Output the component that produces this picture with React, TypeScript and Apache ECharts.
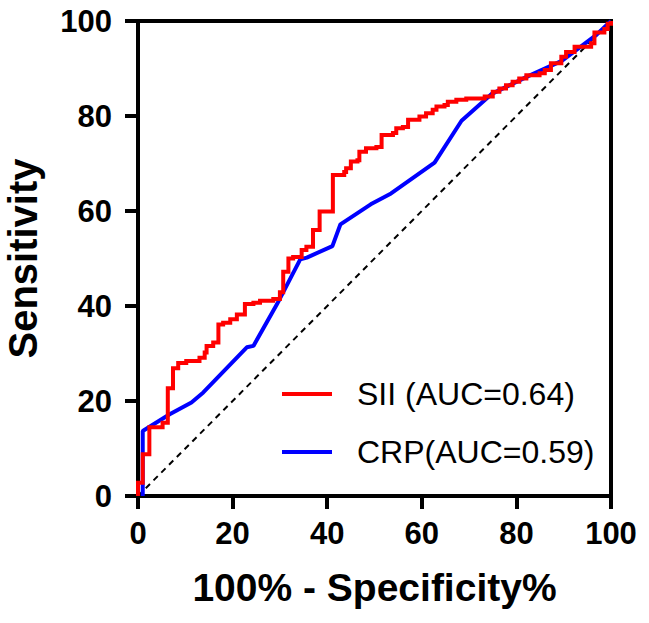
import React, { useEffect, useRef } from "react";
import * as echarts from "echarts";

const SII_NAME = "SII (AUC=0.64)";
const CRP_NAME = "CRP(AUC=0.59)";

const SII_X = [0, 0, 1.0, 1.0, 2.4, 2.4, 5.2, 5.2, 6.3, 6.3, 7.4, 7.4, 8.5, 8.5, 10.2, 10.2, 13.0, 13.0, 14.1, 14.1, 14.5, 14.5, 15.9, 15.9, 17.0, 17.0, 18.0, 18.0, 19.5, 19.5, 20.9, 20.9, 22.6, 22.6, 24.4, 24.4, 25.8, 25.8, 28.6, 28.6, 30.0, 30.0, 30.7, 30.7, 31.8, 31.8, 32.8, 32.8, 34.6, 34.6, 35.6, 35.6, 37.0, 37.0, 38.4, 38.4, 41.2, 41.2, 43.6, 43.6, 44.0, 44.0, 45.0, 45.0, 46.4, 46.4, 46.8, 46.8, 48.2, 48.2, 50.4, 50.4, 51.5, 51.5, 53.9, 53.9, 54.6, 54.6, 56.0, 56.0, 57.1, 57.1, 59.5, 59.5, 60.9, 60.9, 62.3, 62.3, 63.1, 63.1, 64.8, 64.8, 65.5, 65.5, 67.3, 67.3, 69.4, 69.4, 73.3, 73.3, 75.0, 75.0, 76.4, 76.4, 77.8, 77.8, 79.2, 79.2, 80.6, 80.6, 82.1, 82.1, 84.9, 84.9, 86.0, 86.0, 87.3, 87.3, 89.5, 89.5, 90.5, 90.5, 92.3, 92.3, 95.8, 95.8, 96.5, 96.5, 98.6, 98.6, 99.3, 99.3, 100, 100];
const SII_Y = [0, 2.8, 2.8, 8.8, 8.8, 14.5, 14.5, 15.4, 15.4, 22.7, 22.7, 26.9, 26.9, 28.0, 28.0, 28.4, 28.4, 29.1, 29.1, 30.2, 30.2, 31.6, 31.6, 32.3, 32.3, 36.1, 36.1, 36.5, 36.5, 37.2, 37.2, 38.2, 38.2, 40.4, 40.4, 40.7, 40.7, 41.1, 41.1, 41.5, 41.5, 42.9, 42.9, 47.2, 47.2, 50.0, 50.0, 50.3, 50.3, 51.8, 51.8, 52.5, 52.5, 56.0, 56.0, 59.9, 59.9, 67.6, 67.6, 68.2, 68.2, 69.0, 69.0, 70.4, 70.4, 70.7, 70.7, 72.5, 72.5, 73.2, 73.2, 73.5, 73.5, 76.0, 76.0, 76.4, 76.4, 77.4, 77.4, 77.7, 77.7, 79.2, 79.2, 79.9, 79.9, 80.6, 80.6, 81.3, 81.3, 82.0, 82.0, 82.3, 82.3, 83.0, 83.0, 83.4, 83.4, 83.7, 83.7, 84.1, 84.1, 85.1, 85.1, 85.8, 85.8, 86.5, 86.5, 87.2, 87.2, 87.9, 87.9, 88.6, 88.6, 89.0, 89.0, 89.7, 89.7, 91.1, 91.1, 92.5, 92.5, 93.5, 93.5, 94.6, 94.6, 95.3, 95.3, 97.6, 97.6, 98.3, 98.3, 99.4, 99.4, 100];

const CRP_X = [1.0, 1.0, 6.7, 11.3, 13.8, 23.0, 24.4, 29.4, 34.3, 35.7, 41.1, 42.8, 49.2, 53.5, 62.7, 68.4, 74.7, 82.5, 89.6, 96.7, 100];
const CRP_Y = [0, 13.7, 17.2, 19.7, 21.8, 31.3, 31.6, 40.4, 49.8, 50.2, 52.6, 57.2, 61.4, 63.7, 70.2, 79.0, 84.6, 88.4, 91.6, 96.9, 100];

const REF_X = [0, 100];
const REF_Y = [0, 100];

const X_TITLE = "100% - Specificity%";
const Y_TITLE = "Sensitivity";

const FONT = "Arial, 'Liberation Sans', Helvetica, sans-serif";

const zip = (xs: number[], ys: number[]) => xs.map((x, i) => [x, ys[i]]);

export default function App() {
  const ref = useRef<HTMLDivElement>(null);
  useEffect(() => {
    if (!ref.current) return;
    const chart = echarts.init(ref.current, undefined, { renderer: "svg" });
    const axisCommon = {
      type: "value" as const,
      min: 0,
      max: 100,
      interval: 20,
      splitLine: { show: false },
      axisLine: { show: true, lineStyle: { color: "#000", width: 4 } },
      axisTick: { show: true, length: 13, lineStyle: { color: "#000", width: 4 } },
      nameLocation: "middle" as const,
    };
    chart.setOption({
      animation: false,
      backgroundColor: "#fff",
      grid: {
        left: 138,
        top: 21,
        width: 473,
        height: 475,
        show: true,
        borderColor: "#000",
        borderWidth: 4,
        containLabel: false,
        outerBoundsMode: "none",
      },
      xAxis: {
        ...axisCommon,
        name: X_TITLE,
        nameGap: 72,
        nameTextStyle: { fontFamily: FONT, fontWeight: "bold", fontSize: 39, color: "#000" },
        axisLabel: { fontFamily: FONT, fontWeight: "bold", fontSize: 31, color: "#000", margin: 22 },
      },
      yAxis: {
        ...axisCommon,
        name: Y_TITLE,
        nameGap: 95,
        nameTextStyle: { fontFamily: FONT, fontWeight: "bold", fontSize: 40, color: "#000" },
        axisLabel: { fontFamily: FONT, fontWeight: "bold", fontSize: 31, color: "#000", margin: 26 },
      },
      legend: {
        data: [SII_NAME, CRP_NAME],
        orient: "vertical",
        left: 277,
        top: 373,
        itemWidth: 50,
        itemHeight: 4,
        itemGap: 26,
        icon: "rect",
        textStyle: {
          fontFamily: FONT,
          fontSize: 32,
          color: "#000",
          lineHeight: 30,
          padding: [0, 0, 0, 20],
        },
      },
      series: [
        {
          type: "line",
          data: zip(REF_X, REF_Y),
          showSymbol: false,
          silent: true,
          lineStyle: { color: "#000", width: 2, type: [6, 5] },
          z: 1,
        },
        {
          name: CRP_NAME,
          type: "line",
          data: zip(CRP_X, CRP_Y),
          showSymbol: false,
          clip: false,
          color: "#0000ff",
          lineStyle: { color: "#0000ff", width: 4 },
          z: 2,
        },
        {
          name: SII_NAME,
          type: "line",
          data: zip(SII_X, SII_Y),
          showSymbol: false,
          clip: false,
          color: "#ff0000",
          lineStyle: { color: "#ff0000", width: 4, join: "miter" },
          z: 3,
        },
      ],
    });
    return () => chart.dispose();
  }, []);
  return (
    <div
      ref={ref}
      style={{ position: "absolute", left: 0, top: 0, width: 649, height: 623, background: "#fff" }}
    />
  );
}
